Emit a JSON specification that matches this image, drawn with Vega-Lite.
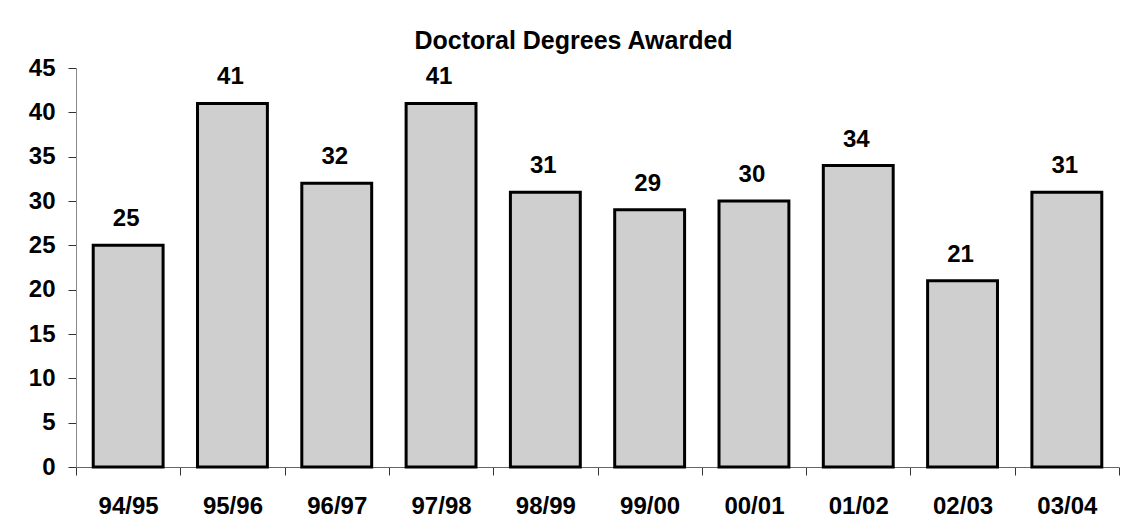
{
  "$schema": "https://vega.github.io/schema/vega-lite/v6.json",
  "width": 1043,
  "height": 399,
  "autosize": {"type": "none"},
  "padding": {"left": 76, "top": 68, "right": 7, "bottom": 62},
  "background": "white",
  "config": {"view": {"stroke": null}, "font": "Liberation Sans"},
  "title": {"text": "Doctoral Degrees Awarded", "font": "Liberation Sans", "fontSize": 25, "fontWeight": "bold", "color": "black", "anchor": "middle", "dx": -24, "offset": 2},
  "data": {"values": [
    {"year": "94/95", "n": 25},
    {"year": "95/96", "n": 41},
    {"year": "96/97", "n": 32},
    {"year": "97/98", "n": 41},
    {"year": "98/99", "n": 31},
    {"year": "99/00", "n": 29},
    {"year": "00/01", "n": 30},
    {"year": "01/02", "n": 34},
    {"year": "02/03", "n": 21},
    {"year": "03/04", "n": 31}
  ]},
  "encoding": {
    "x": {"field": "year", "type": "ordinal", "sort": null, "title": null,
      "scale": {"paddingInner": 0, "paddingOuter": 0},
      "axis": {"tickBand": "extent", "labelAngle": 0, "labelFontSize": 24, "labelFontWeight": "bold", "labelColor": "black", "labelPadding": 19, "tickSize": 8, "tickColor": "#333", "domainColor": "#666", "grid": false}},
    "y": {"field": "n", "type": "quantitative", "title": null,
      "scale": {"domain": [0, 45], "nice": false},
      "axis": {"values": [0, 5, 10, 15, 20, 25, 30, 35, 40, 45], "labelFontSize": 24, "labelFontWeight": "bold", "labelColor": "black", "labelPadding": 13, "tickSize": 8, "tickColor": "#333", "domainColor": "#888", "grid": false}}
  },
  "layer": [
    {"mark": {"type": "bar", "fill": "#cfcfcf", "stroke": "black", "strokeWidth": 3, "width": {"band": 0.67}}},
    {"mark": {"type": "text", "font": "Liberation Sans", "fontSize": 24, "fontWeight": "bold", "color": "black", "baseline": "alphabetic", "dy": -19, "dx": -2},
     "encoding": {"text": {"field": "n", "type": "quantitative"}}}
  ]
}
